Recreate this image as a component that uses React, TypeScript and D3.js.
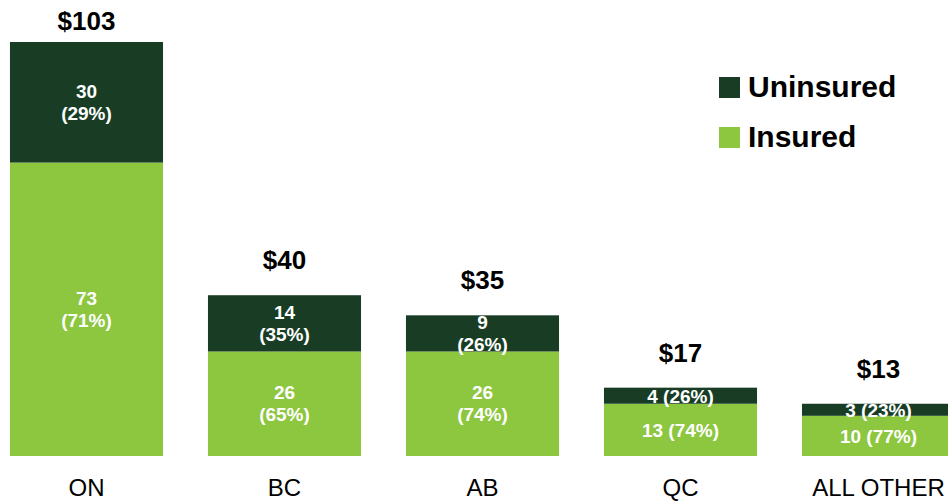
import React from "react";
import * as d3 from "d3";

const categories = ["ON", "BC", "AB", "QC", "ALL OTHER"];
const uninsured = [30, 14, 9, 4, 3];
const insured = [73, 26, 26, 13, 10];
const uninsuredPct = ["29%", "35%", "26%", "26%", "23%"];
const insuredPct = ["71%", "65%", "74%", "74%", "77%"];
const singleLineCats = ["QC", "ALL OTHER"];
const seriesNames = ["Uninsured", "Insured"];

const W = 948;
const H = 503;
const DARK = "#183d24";
const LIGHT = "#8dc63f";
const FONT = "Liberation Sans, Arial, sans-serif";

export default function App() {
  const x = d3
    .scaleBand<string>()
    .domain(categories)
    .range([-12.5, 977.5])
    .paddingInner(0.227)
    .paddingOuter(0.1135);
  const y = d3.scaleLinear().domain([0, 103]).range([456, 42]);

  const rows = categories.map((c, i) => ({
    cat: c,
    insured: insured[i],
    uninsured: uninsured[i],
  }));
  const stack = d3.stack<any>().keys(["insured", "uninsured"])(rows);

  const label = (cx: number, cy: number, v: number, pct: string, single: boolean, key: string) =>
    single ? (
      <text key={key} x={cx} y={cy + 7} textAnchor="middle" fill="#fff" fontWeight="bold" fontSize={19} fontFamily={FONT}>
        {`${v} (${pct})`}
      </text>
    ) : (
      <g key={key}>
        <text x={cx} y={cy - 4.5} textAnchor="middle" fill="#fff" fontWeight="bold" fontSize={19} fontFamily={FONT}>
          {v}
        </text>
        <text x={cx} y={cy + 17.5} textAnchor="middle" fill="#fff" fontWeight="bold" fontSize={19} fontFamily={FONT}>
          {`(${pct})`}
        </text>
      </g>
    );

  return (
    <svg
      width={W}
      height={H}
      style={{ position: "absolute", left: 0, top: 0, display: "block", overflow: "hidden", background: "#fff" }}
    >
      {stack.map((s) => (
        <g key={s.key} fill={s.key === "insured" ? LIGHT : DARK}>
          {s.map((d, i) => (
            <rect
              key={i}
              x={x(categories[i])!}
              y={y(d[1])}
              width={x.bandwidth()}
              height={y(d[0]) - y(d[1])}
            />
          ))}
        </g>
      ))}
      {stack.map((s) =>
        s.map((d, i) => {
          const cx = x(categories[i])! + x.bandwidth() / 2;
          const cy = (y(d[0]) + y(d[1])) / 2;
          const isIns = s.key === "insured";
          return label(
            cx,
            cy,
            isIns ? insured[i] : uninsured[i],
            isIns ? insuredPct[i] : uninsuredPct[i],
            singleLineCats.includes(categories[i]),
            s.key + i
          );
        })
      )}
      {categories.map((c, i) => {
        const total = insured[i] + uninsured[i];
        const cx = x(c)! + x.bandwidth() / 2;
        return (
          <g key={c}>
            <text
              x={cx}
              y={Math.max(y(total) - 26, 30)}
              textAnchor="middle"
              fontWeight="bold"
              fontSize={26}
              fontFamily={FONT}
              fill="#000"
            >
              {`$${total}`}
            </text>
            <text x={cx} y={496} textAnchor="middle" fontSize={24} fontFamily={FONT} fill="#000">
              {c}
            </text>
          </g>
        );
      })}
      {seriesNames.map((n, i) => (
        <g key={n} transform={`translate(719, ${77 + i * 50})`}>
          <rect width={21} height={21} fill={i === 0 ? DARK : LIGHT} />
          <text x={29} y={20} fontSize={30} fontWeight="bold" fontFamily={FONT} fill="#000">
            {n}
          </text>
        </g>
      ))}
    </svg>
  );
}
